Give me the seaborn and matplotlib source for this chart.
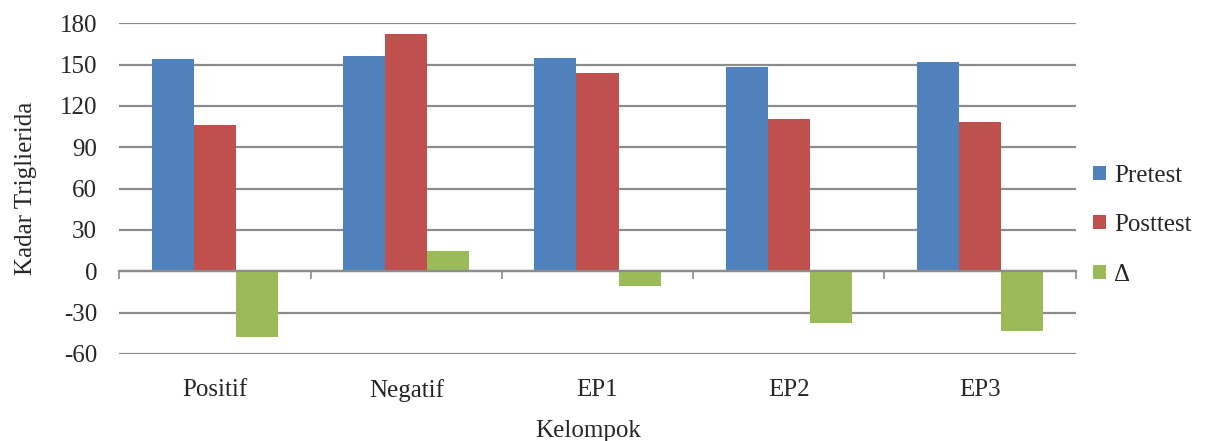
import matplotlib
matplotlib.use("Agg")
import matplotlib.pyplot as plt
import seaborn as sns
import pandas as pd
import numpy as np

# Triglyceride levels per group
kelompok = ["Positif", "Negatif", "EP1", "EP2", "EP3"]
pretest = [154, 156.5, 155, 148, 152]
posttest = [106, 172, 144, 110.5, 108.5]
delta = [-48, 15, -11, -37.5, -43]
series = ["Pretest", "Posttest", "\u0394"]
colors = ["#4F81BD", "#C0504D", "#9BBB59"]
yticks = [-60, -30, 0, 30, 60, 90, 120, 150, 180]

df = pd.DataFrame({
    "Kelompok": kelompok * 3,
    "Kadar": pretest + posttest + delta,
    "Seri": [s for s in series for _ in kelompok],
})

sns.set_style("white")
plt.rcParams["font.family"] = ["Liberation Serif", "DejaVu Serif"]
plt.rcParams["axes.unicode_minus"] = False
FS = 18
grid_col = "#8C8C8C"

fig = plt.figure(figsize=(12.05, 4.41), dpi=100)
ax = fig.add_axes([0.0991, 0.1973, 0.7935, 0.7499])

sns.barplot(data=df, x="Kelompok", y="Kadar", hue="Seri", order=kelompok,
            hue_order=series, palette=colors, saturation=1, width=0.66,
            gap=0, errorbar=None, linewidth=0, ax=ax, zorder=3)

ax.set_ylim(-60, 180)
ax.set_yticks(yticks)
ax.set_xlim(-0.5, len(kelompok) - 0.5)
ax.yaxis.grid(True, color=grid_col, linewidth=1.6, zorder=0)
ax.set_axisbelow(True)
for s in ax.spines.values():
    s.set_visible(False)
ax.tick_params(axis="y", length=0, pad=16, labelsize=FS)
ax.tick_params(axis="x", length=0, pad=18, labelsize=FS)
ax.set_ylabel("Kadar Triglierida", fontsize=FS, labelpad=16)
ax.set_xlabel("Kelompok", fontsize=FS)
ax.xaxis.set_label_coords(0.49, -0.2)

# Category axis drawn at zero with tick marks between groups
tw = ax.twiny()
tw.set_xlim(ax.get_xlim())
for name, s in tw.spines.items():
    s.set_visible(name == "bottom")
tw.spines["bottom"].set_position(("data", 0))
tw.spines["bottom"].set_color(grid_col)
tw.spines["bottom"].set_linewidth(1.6)
tw.xaxis.set_ticks_position("bottom")
tw.set_xticks(np.arange(-0.5, len(kelompok), 1.0))
tw.tick_params(axis="x", direction="out", length=6, width=1.2, color=grid_col,
               labelbottom=False, labeltop=False)

handles, labels = ax.get_legend_handles_labels()
ax.legend(handles, labels, loc="center left", bbox_to_anchor=(1.008, 0.39),
          frameon=False, fontsize=FS, handlelength=0.5, handleheight=0.5,
          handletextpad=0.35, labelspacing=1.1, borderaxespad=0)

fig.savefig("out.png", dpi=100)
